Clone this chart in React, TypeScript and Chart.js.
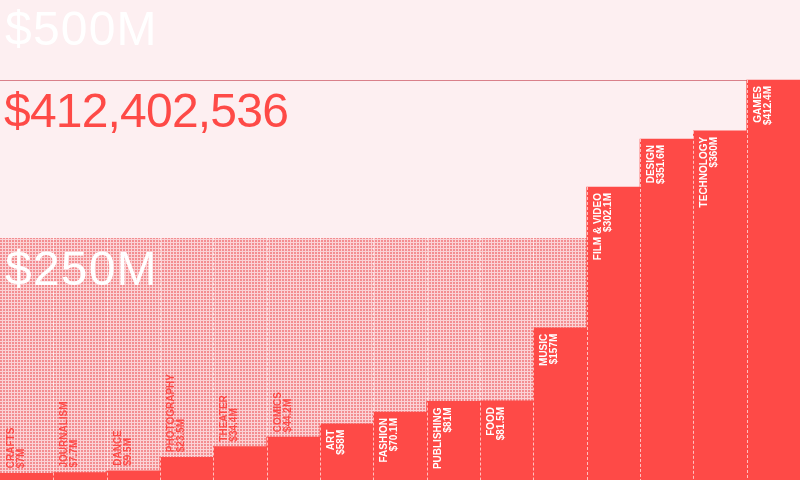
import React, { useRef, useEffect } from 'react';
import { Chart, registerables } from 'chart.js';

Chart.register(...registerables);

const categories = [
  'CRAFTS', 'JOURNALISM', 'DANCE', 'PHOTOGRAPHY', 'THEATER', 'COMICS', 'ART', 'FASHION',
  'PUBLISHING', 'FOOD', 'MUSIC', 'FILM & VIDEO', 'DESIGN', 'TECHNOLOGY', 'GAMES',
];
const values = [7, 7.7, 9.5, 23.5, 34.4, 44.2, 58, 70.1, 81, 81.5, 157, 302.1, 351.6, 360, 412.4];
const valueLabels = [
  '$7M', '$7.7M', '$9.5M', '$23.5M', '$34.4M', '$44.2M', '$58M', '$70.1M',
  '$81M', '$81.5M', '$157M', '$302.1M', '$351.6M', '$360M', '$412.4M',
];
const yTickValues = [500, 250];
const yTickLabels = ['$500M', '$250M'];
const maxLabel = '$412,402,536';

const BAR_RED = '#fe4a47';
const BG = '#fdeff1';
const FONT = "'Liberation Sans', Arial, Helvetica, sans-serif";

function makePattern(ctx: CanvasRenderingContext2D) {
  const tile = document.createElement('canvas');
  tile.width = 3;
  tile.height = 3;
  const t = tile.getContext('2d')!;
  t.fillStyle = '#fbd2d5';
  t.fillRect(0, 0, 3, 3);
  t.fillStyle = '#f38d90';
  t.fillRect(0, 0, 2, 2);
  return ctx.createPattern(tile, 'repeat');
}

const App: React.FC = () => {
  const chartRef = useRef<HTMLCanvasElement>(null);

  useEffect(() => {
    const canvas = chartRef.current;
    if (!canvas) return;
    const ctx = canvas.getContext('2d');
    if (!ctx) return;
    const pattern = makePattern(ctx);

    const decor = {
      id: 'decor',
      beforeDatasetsDraw(chart: any) {
        const { ctx: c, chartArea, scales } = chart;
        const y = scales.y;
        // dotted area below the lower tick
        const top = Math.round(y.getPixelForValue(yTickValues[1]));
        c.save();
        c.fillStyle = pattern || '#f38d90';
        c.fillRect(chartArea.left, top, chartArea.right - chartArea.left, chartArea.bottom - top);

        // line at the max value
        const maxY = Math.round(y.getPixelForValue(Math.max(...values))) + 0.5;
        c.strokeStyle = '#d9808a';
        c.lineWidth = 1;
        c.beginPath();
        c.moveTo(chartArea.left, maxY);
        c.lineTo(chartArea.right, maxY);
        c.stroke();

        // big labels
        c.font = `48px ${FONT}`;
        c.textAlign = 'left';
        c.textBaseline = 'alphabetic';
        c.fillStyle = '#ffffff';
        (c as any).letterSpacing = '1.2px';
        yTickValues.forEach((v, i) => {
          const py = Math.max(y.getPixelForValue(v) + 47, 45);
          c.fillText(yTickLabels[i], 5, py);
        });
        (c as any).letterSpacing = '-0.8px';
        c.fillStyle = BAR_RED;
        c.fillText(maxLabel, 4, maxY + 46);
        c.restore();
      },
      afterDatasetsDraw(chart: any) {
        const { ctx: c, chartArea, scales } = chart;
        const meta = chart.getDatasetMeta(0);
        const patternTop = scales.y.getPixelForValue(yTickValues[1]);
        c.save();
        // dashed separators between bars
        c.strokeStyle = 'rgba(255,255,255,0.65)';
        c.lineWidth = 1;
        c.setLineDash([3, 2]);
        for (let i = 1; i < meta.data.length; i++) {
          const a = meta.data[i - 1].getProps(['x', 'y', 'width'], true);
          const b = meta.data[i].getProps(['y'], true);
          const sx = Math.round(a.x + a.width / 2) + 0.5;
          const startY = Math.min(patternTop, a.y, b.y);
          c.beginPath();
          c.moveTo(sx, startY);
          c.lineTo(sx, chartArea.bottom);
          c.stroke();
        }
        c.setLineDash([]);

        // rotated bar labels
        c.font = `bold 10px ${FONT}`;
        meta.data.forEach((bar: any, i: number) => {
          const { x: cx, y: topY, width } = bar.getProps(['x', 'y', 'width'], true);
          const left = cx - width / 2;
          const textW = Math.max(c.measureText(categories[i]).width, c.measureText(valueLabels[i]).width);
          const inside = chartArea.bottom - topY >= textW + 12;
          c.save();
          c.translate(left, inside ? topY + 6 : topY - 5);
          c.rotate(-Math.PI / 2);
          c.textAlign = inside ? 'right' : 'left';
          c.textBaseline = 'alphabetic';
          c.fillStyle = inside ? '#ffffff' : BAR_RED;
          c.fillText(categories[i], 0, 14);
          c.fillText(valueLabels[i], 0, 24);
          c.restore();
        });
        c.restore();
      },
    };

    const chart = new Chart(ctx, {
      type: 'bar',
      data: {
        labels: categories,
        datasets: [{
          data: values,
          backgroundColor: BAR_RED,
          borderWidth: 0,
          categoryPercentage: 1,
          barPercentage: 1,
        }],
      },
      options: {
        responsive: false,
        animation: false,
        layout: { padding: 0 },
        plugins: {
          legend: { display: false },
          tooltip: { enabled: false },
        },
        scales: {
          x: { display: false },
          y: { display: false, min: 0, max: Math.max(...values) * 1.2 },
        },
      },
      plugins: [decor],
    });

    return () => {
      chart.destroy();
    };
  }, []);

  return (
    <div style={{ position: 'fixed', left: 0, top: 0, width: 800, height: 480, background: BG }}>
      <canvas ref={chartRef} width={800} height={480} />
    </div>
  );
};

export default App;
